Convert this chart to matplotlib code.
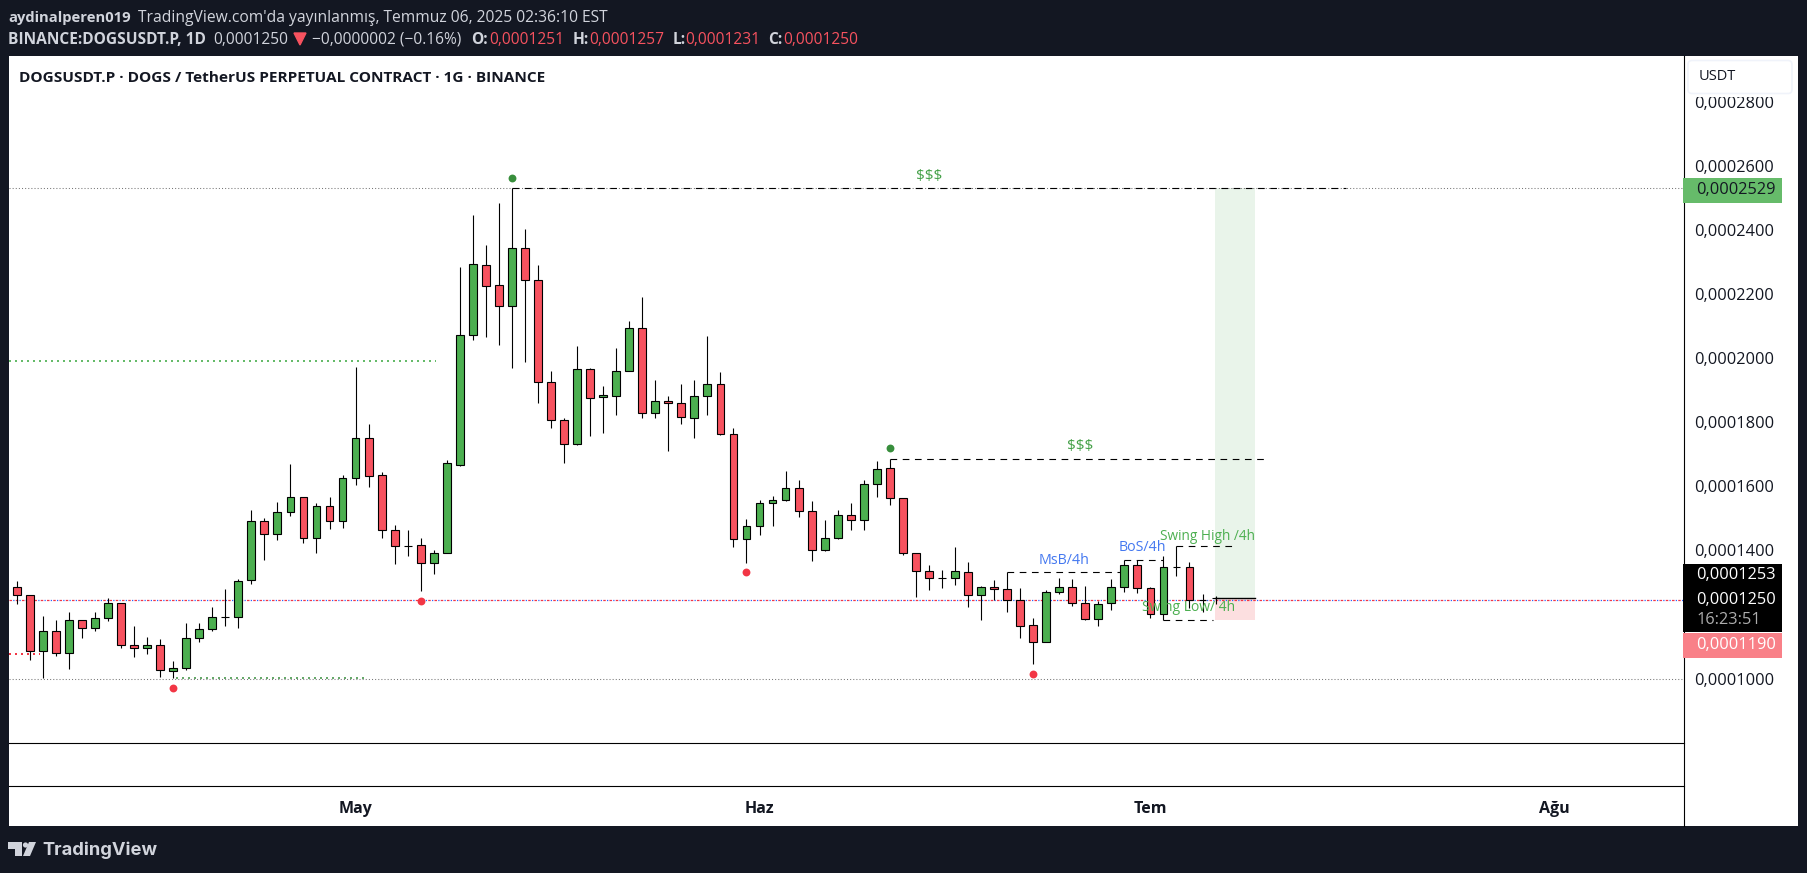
import numpy as np
import matplotlib
matplotlib.use("Agg")
import matplotlib.pyplot as plt
import matplotlib.patches as patches
from matplotlib.transforms import Affine2D
from matplotlib.ticker import FuncFormatter

# ==========================================
# 1. DATA (prices in units of 0.0000001)
# ==========================================
opens = [1286, 1259, 1086, 1147, 1080, 1184, 1156, 1190, 1234, 1106, 1094, 1106, 1022, 1034, 1125, 1153,
         1193, 1193, 1306, 1490, 1452, 1518, 1565, 1437, 1537, 1490, 1627, 1749, 1636, 1462, 1414, 1415,
         1359, 1393, 1667, 2073, 2289, 2229, 2161, 2342, 2242, 1924, 1808, 1733, 1967, 1877, 1880, 1958,
         2095, 1827, 1867, 1861, 1814, 1880, 1920, 1764, 1434, 1477, 1546, 1558, 1593, 1521, 1402, 1437,
         1509, 1496, 1608, 1658, 1562, 1390, 1334, 1312, 1312, 1331, 1259, 1284, 1278, 1245, 1168, 1115,
         1271, 1287, 1234, 1187, 1234, 1287, 1353, 1281, 1200, 1349, 1349, 1246, 1251]
highs = [1303, 1262, 1194, 1182, 1206, 1184, 1206, 1251, 1237, 1163, 1131, 1122, 1056, 1172, 1172, 1222,
         1278, 1309, 1527, 1502, 1552, 1668, 1565, 1549, 1565, 1636, 1973, 1795, 1643, 1480, 1462, 1437,
         1402, 1681, 2285, 2445, 2351, 2482, 2529, 2401, 2289, 1959, 1814, 2036, 1970, 1914, 2030, 2114,
         2189, 1930, 1880, 1920, 1930, 2070, 1955, 1780, 1499, 1558, 1568, 1646, 1618, 1555, 1493, 1527,
         1549, 1618, 1680, 1686, 1562, 1390, 1353, 1337, 1409, 1362, 1290, 1306, 1333, 1281, 1188, 1275,
         1315, 1309, 1290, 1243, 1309, 1371, 1371, 1287, 1381, 1412, 1362, 1265, 1257]
lows = [1233, 1058, 1001, 1071, 1029, 1127, 1149, 1180, 1096, 1068, 1077, 1005, 1001, 1028, 1114, 1149,
        1164, 1158, 1296, 1370, 1433, 1507, 1423, 1392, 1467, 1470, 1604, 1598, 1439, 1358, 1383, 1274,
        1327, 1393, 1664, 2057, 2066, 2041, 1969, 1988, 1860, 1782, 1671, 1730, 1757, 1766, 1823, 1958,
        1813, 1813, 1710, 1795, 1751, 1823, 1761, 1411, 1361, 1448, 1476, 1555, 1504, 1367, 1399, 1434,
        1464, 1464, 1567, 1542, 1386, 1255, 1277, 1283, 1292, 1224, 1182, 1246, 1208, 1125, 1046, 1115,
        1265, 1227, 1181, 1164, 1215, 1270, 1267, 1189, 1184, 1321, 1221, 1209, 1231]
closes = [1259, 1086, 1147, 1080, 1184, 1156, 1190, 1234, 1106, 1094, 1106, 1025, 1034, 1125, 1153, 1193,
          1193, 1303, 1490, 1452, 1518, 1565, 1437, 1537, 1490, 1627, 1749, 1633, 1462, 1412, 1412, 1359,
          1393, 1671, 2073, 2292, 2226, 2161, 2342, 2242, 1924, 1808, 1733, 1964, 1874, 1883, 1958, 2095,
          1827, 1867, 1861, 1817, 1880, 1920, 1764, 1434, 1477, 1546, 1558, 1593, 1521, 1402, 1437, 1509,
          1496, 1608, 1655, 1562, 1390, 1334, 1312, 1312, 1334, 1259, 1284, 1278, 1245, 1165, 1115, 1271,
          1287, 1234, 1187, 1231, 1287, 1353, 1281, 1200, 1349, 1349, 1246, 1246, 1250]

month_idx = [26, 57, 87, 118]
month_labels = ["May", "Haz", "Tem", "Ağu"]
price_ticks = [1000, 1400, 1600, 1800, 2000, 2200, 2400, 2600, 2800]

# swing markers (candle index, price)
green_dot_i = [38, 67]
green_dot_p = [2560, 1718]
red_dot_i = [12, 31, 56, 78]
red_dot_p = [969, 1243, 1331, 1014]

# dashed levels: start index, end index, price
dash_start = [38, 67, 76, 85, 89, 88]
dash_end = [102, 96, 85, 88, 93.6, 91.8]
dash_price = [2529, 1686, 1333, 1371, 1412, 1184]

# position tool
entry_price = 1250
target_price = 2529
stop_price = 1184
tool_start = 91.96
tool_end = 95.03

BG = "#131722"
GREEN = "#4CAF50"
RED = "#F7525F"
W, H = 1807, 873

# ==========================================
# 2. LAYOUT (all in screenshot pixels)
# ==========================================
def add_axes_px(left, top, right, bottom, **kw):
    return fig.add_axes([left / W, 1 - bottom / H, (right - left) / W, (bottom - top) / H], **kw)

plt.rcParams["font.family"] = ["Open Sans", "DejaVu Sans"]
fig = plt.figure(figsize=(W / 100, H / 100), dpi=100, facecolor=BG)
px = Affine2D().scale(1 / W, -1 / H).translate(0, 1) + fig.transFigure

side = add_axes_px(1683.5, 56, 1798, 826, facecolor="white", zorder=-1)
side.set_xticks([])
side.set_yticks([])
for s in side.spines.values():
    s.set_visible(False)

ax = add_axes_px(9, 56, 1683.5, 743, facecolor="white", zorder=3)
pane = add_axes_px(9, 743, 1683.5, 786, facecolor="white", zorder=2)
time_ax = add_axes_px(9, 786, 1683.5, 826, facecolor="white", zorder=1)

x0 = (9 - 16.8) / 13.03
x1 = (1683.5 - 16.8) / 13.03
ax.set_xlim(x0, x1)
ax.set_ylim(798.8, 2942)
pane.set_xlim(x0, x1)
time_ax.set_xlim(x0, x1)

for a in (ax, pane, time_ax):
    for name, s in a.spines.items():
        s.set_visible(name in ("right", "bottom"))
        s.set_linewidth(0.8)
        s.set_color("black")
pane.set_xticks([])
pane.set_yticks([])
time_ax.set_yticks([])
time_ax.spines["bottom"].set_visible(False)
time_ax.set_xticks(month_idx)
time_ax.set_xticklabels(month_labels, fontsize=11.5, fontweight="bold", color="#131722")
time_ax.tick_params(axis="x", length=0, pad=-18)

ax.set_xticks([])
ax.yaxis.tick_right()
ax.set_yticks(price_ticks)
ax.yaxis.set_major_formatter(FuncFormatter(lambda v, _: f"{v * 1e-7:.7f}".replace(".", ",")))
ax.tick_params(axis="y", length=0, pad=8, labelsize=11.8, labelcolor="#131722")

# ==========================================
# 3. LEVELS AND POSITION TOOL
# ==========================================
ax.fill_between([tool_start, tool_end], entry_price, target_price, color="#E9F4EA", lw=0, zorder=1)
ax.fill_between([tool_start, tool_end], stop_price, entry_price, color="#FCDFE0", lw=0, zorder=1)
ax.plot([tool_start, tool_end], [entry_price, entry_price], color="black", lw=1.0, zorder=3)

ax.axhline(1000, color="#777777", lw=0.75, ls=(0, (1, 2)), zorder=1)
ax.axhline(target_price, color="#777777", lw=0.75, ls=(0, (1, 2)), zorder=1)
ax.axhline(1244, color="#2962FF", lw=0.9, ls=(2, (1, 4)), zorder=2)
ax.axhline(1244, color="#F23645", lw=0.9, ls=(0, (2, 3)), zorder=2)
ax.plot([x0, 1.8], [1077, 1077], color="#F23645", lw=1.44, ls=(0, (1, 2)), zorder=2)
ax.plot([12.2, 26.9], [1002, 1002], color="#66A96A", lw=1.44, ls=(0, (1, 2)), zorder=2)
ax.plot([x0, 32.2], [1990, 1990], color="#66BB6A", lw=1.44, ls=(0, (1, 2)), zorder=2)

for a0, a1, p in zip(dash_start, dash_end, dash_price):
    ax.plot([a0, a1], [p, p], color="black", lw=0.8, ls=(0, (6, 5)), zorder=3)

# ==========================================
# 4. CANDLES
# ==========================================
o, h, l, c = (np.array(v, dtype=float) for v in (opens, highs, lows, closes))
idx = np.arange(len(o))
colors = np.where(c >= o, GREEN, RED)
ax.vlines(idx, l, h, color="black", lw=0.8, zorder=4)
ax.bar(idx, np.abs(c - o), bottom=np.minimum(o, c), width=0.6, color=colors,
       edgecolor="black", linewidth=0.8, zorder=5)

ax.scatter(green_dot_i, green_dot_p, s=32, color="#388E3C", lw=0, zorder=6)
ax.scatter(red_dot_i, red_dot_p, s=32, color="#F23645", lw=0, zorder=6)

# ==========================================
# 5. DRAWING LABELS
# ==========================================
ax.text(70.0, 2566, "$$$", color="#43A047", fontsize=11, ha="center", va="center", zorder=7)
ax.text(81.6, 1724, "$$$", color="#43A047", fontsize=11, ha="center", va="center", zorder=7)
ax.text(80.4, 1369, "MsB/4h", color="#4478F0", fontsize=10.3, ha="center", va="center", zorder=7)
ax.text(86.4, 1408, "BoS/4h", color="#4478F0", fontsize=10.3, ha="center", va="center", zorder=7)
ax.text(91.4, 1443, "Swing High /4h", color=GREEN, fontsize=9.8, ha="center", va="center", zorder=7)
ax.text(89.9, 1221, "Swing Low/ 4h", color=GREEN, fontsize=10, ha="center", va="center", zorder=7)

fig.text(19 / W, 1 - 78 / H, "DOGSUSDT.P · DOGS / TetherUS PERPETUAL CONTRACT · 1G · BINANCE",
         fontsize=11.1, fontweight="bold", color="#131722", va="center", zorder=8)

# ==========================================
# 6. HEADER AND PRICE TAGS
# ==========================================
def label(x, y, text, color="#D1D4DC", size=11.2, weight="normal"):
    fig.text(x / W, 1 - y / H, text, color=color, fontsize=size, fontweight=weight, va="center", zorder=8)

label(8, 18, "aydinalperen019", size=10.6, weight="bold")
label(138, 18, "TradingView.com'da yayınlanmış, Temmuz 06, 2025 02:36:10 EST", size=11.25)
label(8, 40, "BINANCE:DOGSUSDT.P, 1D", weight="bold")
label(213, 40, "0,0001250")
fig.add_artist(patches.Polygon([[294, 33], [306, 33], [300, 45]], closed=True, color="#F7525F", transform=px, zorder=8))
label(312, 40, "−0,0000002 (−0.16%)")
for x_lab, x_val, lab, val in zip([471, 573, 673, 768], [489, 589, 685, 783], ["O:", "H:", "L:", "C:"],
                                  ["0,0001251", "0,0001257", "0,0001231", "0,0001250"]):
    label(x_lab, 40, lab, weight="bold")
    label(x_val, 40, val, color="#F7525F")

def tag(top, bottom, color):
    fig.add_artist(patches.Rectangle((1683.5, top), 98.5, bottom - top, color=color, lw=0, transform=px, zorder=7))

tag(178, 203, "#66BB6A")
tag(563.5, 632, "#000000")
tag(633, 658, "#F98088")
label(1696, 190, "0,0002529", color="#131722", size=11.8)
label(1696, 575, "0,0001253", color="white", size=11.8)
label(1696, 599.5, "0,0001250", color="white", size=11.8)
label(1696, 619.5, "16:23:51", color="#ADADAD", size=11.8)
label(1696, 645, "0,0001190", color="white", size=11.8)

# the USDT box sits over the top price label and cuts it, as in the screenshot
fig.add_artist(patches.Rectangle((1686, 60), 108, 37, fc="white", lw=0, transform=px, zorder=7))
fig.add_artist(patches.FancyBboxPatch((1688, 60.5), 104, 33, boxstyle="round,pad=0,rounding_size=4", fc="white",
                                      ec="#F0F3FA", lw=1.2, transform=px, zorder=7))
label(1699, 77, "USDT", color="#131722", size=10.5)

# logo
logo = "#D1D4DC"
fig.add_artist(patches.Polygon([[8, 842], [22, 842], [22, 856], [15, 856], [15, 849], [8, 849]], closed=True,
                               color=logo, lw=0, transform=px, zorder=8))
fig.add_artist(patches.Circle((25.5, 845), 2.6, color=logo, lw=0, transform=px, zorder=8))
fig.add_artist(patches.Polygon([[29, 842], [36, 842], [30, 856], [23, 856]], closed=True,
                               color=logo, lw=0, transform=px, zorder=8))
fig.text(42 / W, 1 - 850 / H, "TradingView", color=logo, fontsize=13.2, fontweight="bold",
         family="Inter", va="center", zorder=8)

fig.savefig("out.png", dpi=100, facecolor=BG)
